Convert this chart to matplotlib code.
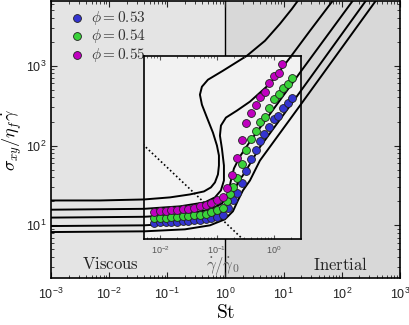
import matplotlib
matplotlib.use("Agg")
import matplotlib.pyplot as plt
from matplotlib.patches import Rectangle
from matplotlib.font_manager import FontProperties

plt.rcParams["font.family"] = "Liberation Sans"
plt.rcParams["mathtext.fontset"] = "custom"
plt.rcParams["mathtext.rm"] = "Liberation Sans"
plt.rcParams["mathtext.it"] = "Liberation Sans:italic"
plt.rcParams["mathtext.bf"] = "Liberation Sans:bold"

# model curves: sigma_xy / (eta_f gamma_dot) against St
c1_st = [0.001, 0.00695, 0.0397, 0.111, 0.2455, 0.427, 0.563, 0.660, 0.743, 0.773, 0.773,
         0.714, 0.610, 0.481, 0.394, 0.364, 0.394, 0.500, 0.906, 2.34, 4.78, 8.65, 13.9, 19.1]
c1_s = [20.5, 20.5, 21.1, 22.4, 24.4, 26.6, 29.9, 34.5, 43.4, 56.2, 75.0,
        100, 145, 224, 325, 434, 546, 668, 866, 1334, 2054, 3350, 5158, 7080]
c2_st = [0.001, 0.0397, 0.165, 0.443, 0.660, 0.837, 0.942, 0.942, 0.870, 0.804, 0.837,
         1.02, 1.576, 2.64, 5.82, 12.85, 28.4, 76.2]
c2_s = [15.7, 16.1, 17.3, 19.4, 22.4, 27.4, 36.5, 56.2, 91.7, 133, 178,
        224, 274, 355, 596, 1259, 2738, 7080]
c3_st = [0.001, 0.0397, 0.2015, 0.541, 0.870, 1.104, 1.243, 1.40, 1.775, 2.64, 19.1, 168]
c3_s = [12.5, 12.8, 13.7, 15.8, 18.8, 24.4, 36.5, 51.6, 72.9, 112, 818, 7080]
c4_st = [0.001, 0.0397, 0.2015, 0.541, 0.906, 1.195, 1.40, 1.64, 2.16, 3.92, 19.1, 282]
c4_s = [9.8, 10.0, 10.7, 12.2, 14.5, 18.8, 25.9, 34.5, 46.0, 95.7, 467, 7080]
c5_st = [0.001, 0.0397, 0.2015, 0.541, 0.980, 1.345, 1.64, 2.0, 2.64, 3.92, 19.1, 418]
c5_s = [8.24, 8.41, 8.91, 10.0, 11.9, 15.0, 20.5, 27.4, 36.5, 64.9, 316, 7080]
curves = [(c1_st, c1_s), (c2_st, c2_s), (c3_st, c3_s), (c4_st, c4_s), (c5_st, c5_s)]

# inset data: gamma_dot / gamma_dot_0
low_rate = [0.00794, 0.0100, 0.0126, 0.0158, 0.0200, 0.0251, 0.0316, 0.0398,
            0.0501, 0.0631, 0.0794, 0.100, 0.126]
b_rate = low_rate + [0.156, 0.191, 0.224, 0.275, 0.323, 0.395, 0.483, 0.568,
                     0.668, 0.817, 1.0, 1.175, 1.44, 1.76, 2.07]
b_s = [10.7, 10.8, 10.9, 10.9, 11.0, 11.1, 11.2, 11.4, 11.6, 11.8, 12.1, 12.6, 13.3,
       16.3, 20.5, 25.1, 33.5, 47.3, 66.8, 86.6, 112, 137, 168, 211, 230, 290, 335, 387]
g_rate = low_rate + [0.150, 0.169, 0.191, 0.224, 0.275, 0.323, 0.395, 0.483, 0.568,
                     0.695, 0.817, 1.0, 1.224, 1.44, 1.76, 2.07]
g_s = [12.2, 12.3, 12.4, 12.5, 12.6, 12.8, 13.0, 13.2, 13.5, 13.9, 14.4, 15.2, 16.5,
       20.0, 24.4, 29.9, 38.7, 57.9, 86.6, 119, 150, 194, 224, 290, 376, 434, 516, 579, 688]
m_rate = low_rate + [0.150, 0.183, 0.224, 0.275, 0.323, 0.395, 0.483, 0.568, 0.695,
                     0.817, 1.0, 1.224, 1.39]
m_s = [14.6, 14.8, 15.0, 15.2, 15.4, 15.7, 16.0, 16.5, 17.2, 18.0, 19.0, 20.3, 22.5,
       29.0, 42.2, 68.8, 115, 188, 251, 316, 398, 460, 596, 729, 794, 1029]
series = [
    (b_rate, b_s, "#3434d0", r"$\phi = 0.53$"),
    (g_rate, g_s, "#3ad23a", r"$\phi = 0.54$"),
    (m_rate, m_s, "#c000c0", r"$\phi = 0.55$"),
]
dot_rate = [0.005, 0.3]
dot_s = [102, 6.4]

fig = plt.figure(figsize=(4.09, 3.25), dpi=100)
ax = fig.add_axes([0.1247, 0.1446, 0.853, 0.852])
ax.set_xscale("log")
ax.set_yscale("log")
ax.set_xlim(1e-3, 1e3)
ax.set_ylim(10**0.34, 10**3.81)

ax.axvspan(1e-3, 1, color="#e4e4e4", zorder=0, lw=0)
ax.axvspan(1, 1e3, color="#d8d8d8", zorder=0, lw=0)
ax.axvline(1, color="black", lw=1.0, zorder=1)

inset_pos = [0.352, 0.2646, 0.384, 0.5631]
ax.add_patch(Rectangle((inset_pos[0], inset_pos[1]), inset_pos[2], inset_pos[3],
                       transform=fig.transFigure, facecolor="#f2f2f2", edgecolor="none",
                       zorder=1.5))

for st, s in curves:
    ax.plot(st, s, color="black", lw=1.4, zorder=2)

ax.tick_params(which="both", direction="in", top=True, right=True, labelsize=9,
               colors="#222222")
ax.tick_params(axis="x", pad=6)
ax.tick_params(which="major", length=4)
ax.tick_params(which="minor", length=2)
for sp in ax.spines.values():
    sp.set_linewidth(1.2)
ax.set_xticks([1e-3, 1e-2, 1e-1, 1e0, 1e1, 1e2, 1e3])
ax.set_yticks([1e1, 1e2, 1e3])

ax.set_xlabel(r"$\mathrm{St}$", math_fontfamily="cm", fontsize=14, labelpad=2)
ax.set_ylabel(r"$\sigma_{xy}/\eta_f\dot{\gamma}$", math_fontfamily="cm", fontsize=13,
              labelpad=1)
ax.text(0.169, 0.05, r"$\mathrm{Viscous}$", transform=ax.transAxes, ha="center",
        va="center", fontsize=12, math_fontfamily="cm", color="#222222")
ax.text(0.831, 0.05, r"$\mathrm{Inertial}$", transform=ax.transAxes, ha="center",
        va="center", fontsize=12, math_fontfamily="cm", color="#222222")

ins = fig.add_axes(inset_pos)
ins.set_facecolor("none")
ins.set_xscale("log")
ins.set_yscale("log")
ins.set_xlim(10**-2.281, 10**0.474)
ins.set_ylim(10**0.825, 10**3.1125)
ins.plot(dot_rate, dot_s, color="black", lw=1.2, ls=(0, (1, 1.5)))
handles = []
for rate, s, col, lab in series:
    h = ins.scatter(rate, s, s=32, color=col, edgecolors="#222222", linewidths=0.6,
                    zorder=3, label=lab)
    handles.append(h)
ins.tick_params(which="both", direction="in", top=True, left=False, right=False,
                labelleft=False, labelsize=6.5, colors="#555555")
ins.tick_params(which="major", length=3)
ins.tick_params(which="minor", length=1.5)
ins.set_xticks([1e-2, 1e-1, 1e0])
ins.minorticks_on()
ins.set_yticks([])
ins.set_yticks([], minor=True)
for sp in ins.spines.values():
    sp.set_linewidth(1.2)
ins.set_xlabel(r"$\dot{\gamma}/\dot{\gamma}_0$", math_fontfamily="cm", fontsize=12,
               color="#606060", labelpad=0)

ax.legend(handles=handles, loc="upper left", bbox_to_anchor=(0.035, 0.995), frameon=False,
          handletextpad=0.4, labelspacing=0.05, borderaxespad=0, handlelength=1.0,
          scatterpoints=1, prop=FontProperties(size=11, math_fontfamily="cm"),
          labelcolor="#333333")

fig.savefig("out.png", dpi=100)
